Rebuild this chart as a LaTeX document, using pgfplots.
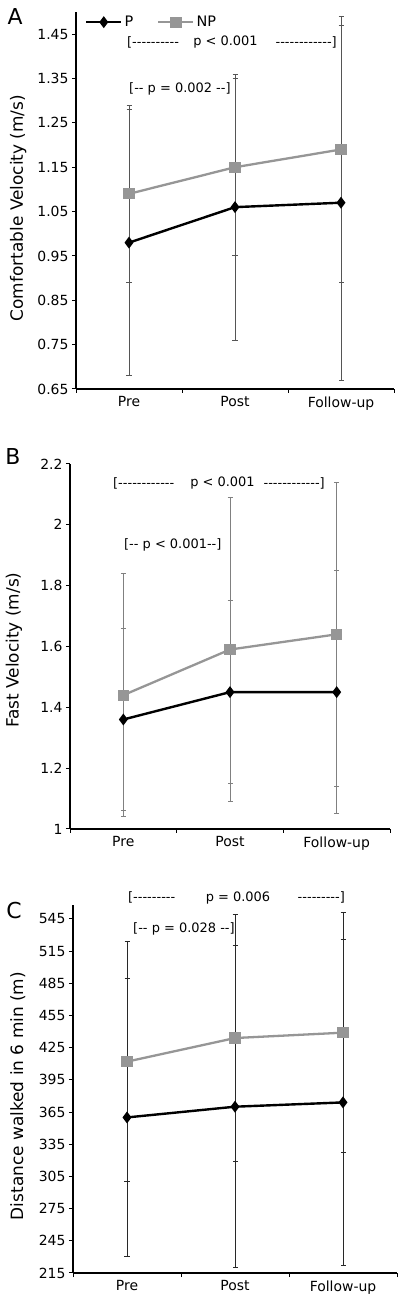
\documentclass[border=0pt]{standalone}
\usepackage{fontspec}
\setmainfont{DejaVu Sans}
\usepackage{pgfplots}
\pgfplotsset{compat=1.18}
\definecolor{npgray}{RGB}{150,150,150}
\definecolor{ebA}{RGB}{85,85,85}
\definecolor{ebB}{RGB}{128,128,128}
\definecolor{ebC}{RGB}{40,40,40}
\newcommand\dd[1]{\foreach\i in {1,...,#1}{-\kern0pt}}
\newcommand\annf{\fontsize{13}{15}\selectfont}
\pgfplotsset{
  myaxis/.style={
    scale only axis, clip=false,
    axis x line*=bottom, axis y line*=left,
    axis line style={line width=1.6bp, black},
    xmin=0, xmax=3, xtick={0,1,2,3}, x tick label as interval,
    xticklabels={Pre,Post,Follow-up},
    tick align=outside, major tick length=4bp,
    tick style={line width=1bp, black},
    ticklabel style={font=\fontsize{14}{16}\selectfont},
    /pgf/number format/assume math mode=true,
  },
  ylab/.style 2 args={every axis y label/.style={at={(axis description cs:#1,#2)}, rotate=90, anchor=center, font=\fontsize{17}{20}\selectfont}},
  pline/.style={black, line width=2.4bp, mark=diamond*, mark size=4bp, mark options={solid, fill=black}},
  npline/.style={npgray, line width=2.3bp, mark=square*, mark size=4.5bp, mark options={solid, fill=npgray}},
  ebar/.style={error bars/.cd, y dir=both, y explicit,
    error bar style={line width=0.9bp, #1},
    error mark options={rotate=90, mark size=2.5bp, line width=0.9bp, #1}},
}
\begin{document}
\begin{tikzpicture}
\useasboundingbox (0,0) rectangle (400bp,1299bp);
% Panel letters
\node[font=\fontsize{22}{24}\selectfont] at (15bp,1282bp) {A};
\node[font=\fontsize{22}{24}\selectfont] at (13bp,842bp) {B};
\node[font=\fontsize{22}{24}\selectfont] at (14bp,388bp) {C};

% ---------- Panel A ----------
\begin{axis}[myaxis, at={(76bp,910bp)}, anchor=south west,
  width=318bp, height=377bp, ymin=0.65, ymax=1.50,
  ytick={0.65,0.75,0.85,0.95,1.05,1.15,1.25,1.35,1.45},
  yticklabels={0.65,0.75,0.85,0.95,1.05,1.15,1.25,1.35,1.45},
  ylabel={Comfortable Velocity (m/s)}, ylab={-0.182}{0.48},
  legend columns=2,
  legend image code/.code={\draw[mark repeat=2, mark phase=2, #1] plot coordinates {(0bp,0bp) (17.5bp,0bp) (35bp,0bp)};},
  legend style={draw=none, fill=none, at={(axis description cs:0.028,0.973)}, anchor=west,
    inner sep=0pt, font=\fontsize{14.5}{16}\selectfont,
    nodes={inner sep=2bp},
    /tikz/every even column/.append style={column sep=22bp}},
]
\addplot[pline, ebar=ebA] coordinates {(0.5,0.98) +- (0,0.30) (1.5,1.06) +- (0,0.30) (2.5,1.07) +- (0,0.40)};
\addlegendentry{P}
\addplot[npline, ebar=ebA] coordinates {(0.5,1.09) +- (0,0.20) (1.5,1.15) +- (0,0.20) (2.5,1.19) +- (0,0.30)};
\addlegendentry{NP}
\node[anchor=west, inner sep=0pt, font=\annf] at (axis cs:0.481,1.432) {[\dd{10}};
\node[inner sep=0pt, font=\annf] at (axis cs:1.410,1.432) {p < 0.001};
\node[anchor=east, inner sep=0pt, font=\annf] at (axis cs:2.462,1.432) {\dd{12}]};
\node[anchor=west, inner sep=0pt, font=\annf] at (axis cs:0.5,1.326) {[\dd{2} p = 0.002 \dd{2}]};
\end{axis}

% ---------- Panel B ----------
\begin{axis}[myaxis, at={(70bp,470bp)}, anchor=south west,
  width=320bp, height=365bp, ymin=1, ymax=2.2,
  ytick={1,1.2,1.4,1.6,1.8,2,2.2},
  yticklabels={1,1.2,1.4,1.6,1.8,2,2.2},
  ylabel={Fast Velocity (m/s)}, ylab={-0.175}{0.49},
]
\addplot[npline, ebar=ebB] coordinates {(0.5,1.44) +- (0,0.40) (1.5,1.59) +- (0,0.50) (2.5,1.64) +- (0,0.50)};
\addplot[pline, ebar=ebB] coordinates {(0.5,1.36) +- (0,0.30) (1.5,1.45) +- (0,0.30) (2.5,1.45) +- (0,0.40)};
\node[anchor=west, inner sep=0pt, font=\annf] at (axis cs:0.403,2.1375) {[\dd{12}};
\node[inner sep=0pt, font=\annf] at (axis cs:1.430,2.1375) {p < 0.001};
\node[anchor=east, inner sep=0pt, font=\annf] at (axis cs:2.39,2.1375) {\dd{12}]};
\node[anchor=west, inner sep=0pt, font=\annf] at (axis cs:0.506,1.933) {[\dd{2} p < 0.001\dd{2}]};
\end{axis}

% ---------- Panel C ----------
\begin{axis}[myaxis, at={(73bp,26bp)}, anchor=south west,
  width=324bp, height=368bp, ymin=215, ymax=558,
  ytick={215,245,275,305,335,365,395,425,455,485,515,545},
  yticklabels={215,245,275,305,335,365,395,425,455,485,515,545},
  ylabel={Distance walked in 6 min (m)}, ylab={-0.170}{0.481},
]
\addplot[npline, ebar=ebC] coordinates {(0.5,412) +- (0,112) (1.5,434) +- (0,115) (2.5,439) +- (0,112)};
\addplot[pline, ebar=ebC] coordinates {(0.5,360) +- (0,130) (1.5,370) +- (0,150) (2.5,374) +- (0,152)};
\node[anchor=west, inner sep=0pt, font=\annf] at (axis cs:0.509,564.6) {[\dd{9}};
\node[inner sep=0pt, font=\annf] at (axis cs:1.528,564.6) {p = 0.006};
\node[anchor=east, inner sep=0pt, font=\annf] at (axis cs:2.519,564.6) {\dd{9}]};
\node[anchor=west, inner sep=0pt, font=\annf] at (axis cs:0.556,535.7) {[\dd{2} p = 0.028 \dd{2}]};
\end{axis}
\end{tikzpicture}
\end{document}
